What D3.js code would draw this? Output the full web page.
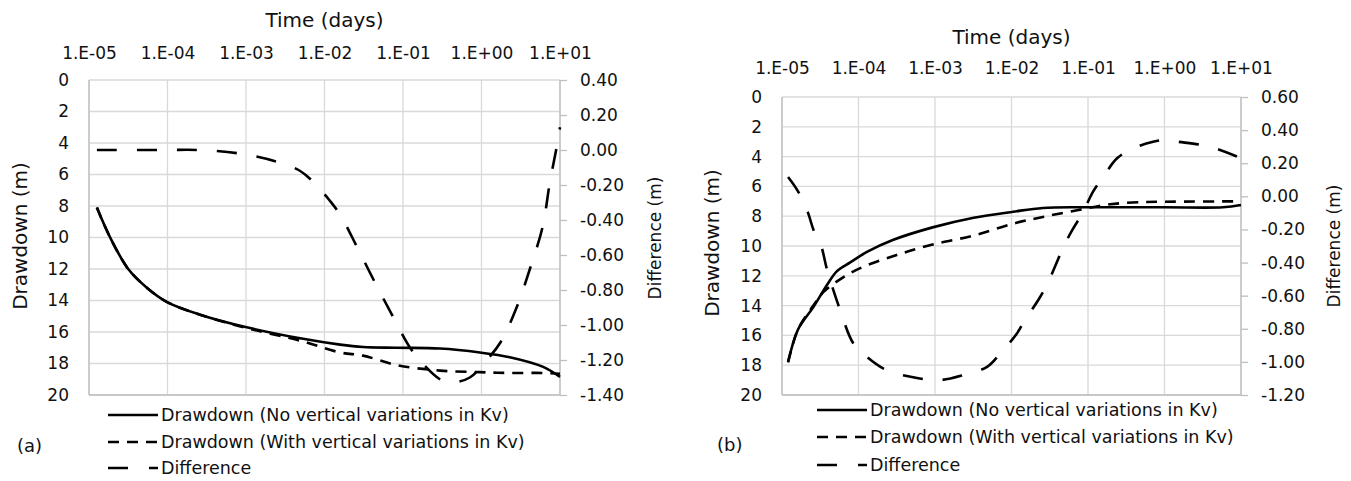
<!DOCTYPE html>
<html>
<head>
<meta charset="utf-8">
<script src="https://cdn.jsdelivr.net/npm/d3@7"></script>
<style>
  body { margin: 0; background: #fff; }
  svg { font-family: "DejaVu Sans", sans-serif; }
  .grid line { stroke: #d9d9d9; stroke-width: 1.3; }
  .axis path, .axis line { stroke: #bfbfbf; stroke-width: 1.3; }
  .axis text { fill: #111; font-size: 17px; font-family: "DejaVu Sans", sans-serif; }
</style>
</head>
<body>
<div id="chart"></div>
<script>
// tick values and labels
var timeTicks = [1e-5, 1e-4, 1e-3, 1e-2, 1e-1, 1, 10]
var timeTickLabels = ["1.E-05", "1.E-04", "1.E-03", "1.E-02", "1.E-01", "1.E+00", "1.E+01"]
var drawdownTicks = [0, 2, 4, 6, 8, 10, 12, 14, 16, 18, 20]
var diffTicksA = [0.4, 0.2, 0, -0.2, -0.4, -0.6, -0.8, -1.0, -1.2, -1.4]
var diffTicksB = [0.6, 0.4, 0.2, 0, -0.2, -0.4, -0.6, -0.8, -1.0, -1.2]

var legendLabels = ["Drawdown (No vertical variations in Kv)", "Drawdown (With vertical variations in Kv)", "Difference"]

// panel (a) : times in days, drawdown in m, difference in m
var timeA = [1.26e-5, 1.86e-5, 3.16e-5, 5.5e-5, 9.9e-5, 2.6e-4, 1.02e-3, 4.9e-3, 1.58e-2, 3.1e-2, 8.3e-2, 0.295, 0.955, 2.29, 6.0, 10]
var drawNoVarA = [8.1, 10.0, 12.0, 13.2, 14.1, 14.9, 15.7, 16.4, 16.8, 16.95, 17.0, 17.05, 17.3, 17.6, 18.2, 18.85]
var drawVarA = [8.1, 10.0, 12.0, 13.2, 14.1, 14.9, 15.75, 16.55, 17.3, 17.5, 18.1, 18.45, 18.55, 18.6, 18.6, 18.65]
var diffTimeA = [1.26e-5, 1e-4, 2.4e-4, 8.3e-4, 2.6e-3, 4.9e-3, 7.1e-3, 1.17e-2, 1.58e-2, 2.57e-2, 4.2e-2, 7.4e-2, 0.123, 0.178, 0.295, 0.40, 0.71, 1.17, 1.74, 2.8, 4.2, 6.0, 7.4, 9.1, 10]
var diffA = [0.0, 0.0, 0.0, -0.02, -0.07, -0.12, -0.18, -0.29, -0.37, -0.55, -0.74, -0.95, -1.13, -1.22, -1.31, -1.33, -1.30, -1.20, -1.10, -0.90, -0.67, -0.44, -0.19, 0.02, 0.13]

// panel (b)
var timeNoVarB = [1.2e-5, 1.62e-5, 2.57e-5, 3.89e-5, 5.2e-5, 7.8e-5, 1.29e-4, 2.8e-4, 9.3e-4, 3.2e-3, 1.05e-2, 2.57e-2, 8.5e-2, 1, 5.8, 10]
var drawNoVarB = [17.8, 15.6, 14.1, 12.6, 11.7, 11.1, 10.4, 9.6, 8.75, 8.1, 7.7, 7.45, 7.4, 7.4, 7.4, 7.25]
var timeVarB = [1.2e-5, 1.62e-5, 2.57e-5, 3.47e-5, 6.3e-5, 1.15e-4, 3.16e-4, 9.3e-4, 3.2e-3, 1.05e-2, 2.57e-2, 7.2e-2, 0.195, 0.52, 1, 10]
var drawVarB = [17.8, 15.6, 14.0, 13.1, 12.1, 11.4, 10.6, 9.9, 9.3, 8.5, 8.05, 7.6, 7.2, 7.05, 7.03, 7.0]
var diffTimeB = [1.2e-5, 1.62e-5, 2.19e-5, 2.57e-5, 3.16e-5, 3.89e-5, 4.68e-5, 5.75e-5, 8.5e-5, 1.29e-4, 2.34e-4, 6.3e-4, 1.17e-3, 2.34e-3, 4.8e-3, 7.1e-3, 1.17e-2, 1.5e-2, 2.24e-2, 2.9e-2, 3.9e-2, 4.7e-2, 6.3e-2, 8.5e-2, 0.117, 0.158, 0.24, 0.39, 0.71, 1, 1.48, 3.9, 10]
var diffB = [0.117, 0.03, -0.10, -0.20, -0.28, -0.445, -0.565, -0.686, -0.886, -0.97, -1.05, -1.10, -1.11, -1.08, -1.03, -0.95, -0.83, -0.747, -0.626, -0.535, -0.40, -0.31, -0.20, -0.10, 0.03, 0.117, 0.23, 0.29, 0.33, 0.34, 0.33, 0.30, 0.23]

var styles = [
	{dash: null},        // no variations : solid
	{dash: "11,8"},      // with variations : short dash
	{dash: "20,20"}      // difference : long dash
]
var legendDash = [null, "11,8", "20,21,10"]

var width = 1351
var height = 481

var svg = d3.select("#chart")
			.append("svg")
			.attr("width", width)
			.attr("height", height)

function zip(xs, ys) {
	return xs.map((x, i) => [x, ys[i]])
}

/**
 * draw one of the two panels
 */
function drawPanel(p) {
	var x = d3.scaleLog().domain([1e-5, 10]).range([p.left, p.right])
	var yL = d3.scaleLinear().domain([0, 20]).range([p.top, p.bottom])
	var yR = d3.scaleLinear().domain([p.diffTicks[0], p.diffTicks[p.diffTicks.length - 1]]).range([p.top, p.bottom])

	var g = svg.append("g")

	// grid
	var grid = g.append("g").attr("class", "grid")
	grid.selectAll(".h").data(drawdownTicks).enter().append("line")
		.attr("x1", p.left).attr("x2", p.right)
		.attr("y1", d => yL(d)).attr("y2", d => yL(d))
	grid.selectAll(".v").data(timeTicks).enter().append("line")
		.attr("x1", d => x(d)).attr("x2", d => x(d))
		.attr("y1", p.top).attr("y2", p.bottom)

	// top axis with time labels
	g.append("g")
	 .attr("class", "axis")
	 .attr("transform", "translate(0," + p.tickY + ")")
	 .call(d3.axisTop(x).tickValues(timeTicks).tickSize(0).tickPadding(0)
	 	.tickFormat((d, i) => timeTickLabels[i]))
	 .call(a => a.select(".domain").remove())

	// left axis
	g.append("g")
	 .attr("class", "axis")
	 .attr("transform", "translate(" + p.left + ",0)")
	 .call(d3.axisLeft(yL).tickValues(drawdownTicks).tickSize(0).tickPadding(20))
	 .call(a => a.select(".domain").attr("d", "M0," + p.top + "V" + p.bottom))

	// right axis
	g.append("g")
	 .attr("class", "axis")
	 .attr("transform", "translate(" + p.right + ",0)")
	 .call(d3.axisRight(yR).tickValues(p.diffTicks).tickSize(7).tickPadding(13).tickFormat(d3.format(".2f")))
	 .call(a => a.select(".domain").attr("d", "M0," + p.top + "V" + p.bottom))
	 .call(a => a.selectAll("text").text(d => d3.format(".2f")(d).replace("−", "-")))

	// bottom line
	g.append("line")
	 .attr("x1", p.left).attr("x2", p.right)
	 .attr("y1", p.bottom).attr("y2", p.bottom)
	 .style("stroke", "#bfbfbf").style("stroke-width", 1.3)

	// titles
	g.append("text")
	 .attr("x", (p.left + p.right) / 2).attr("y", p.titleY)
	 .attr("text-anchor", "middle")
	 .style("font-size", "20px").style("fill", "#111")
	 .text("Time (days)")

	g.append("text")
	 .attr("transform", "translate(" + p.leftTitleX + "," + p.leftTitleY + ") rotate(-90)")
	 .attr("text-anchor", "middle").attr("dominant-baseline", "central")
	 .style("font-size", "20px").style("fill", "#111")
	 .text("Drawdown (m)")

	g.append("text")
	 .attr("transform", "translate(" + p.rightTitleX + "," + p.rightTitleY + ") rotate(-90)")
	 .attr("text-anchor", "middle").attr("dominant-baseline", "central")
	 .style("font-size", "17px").style("fill", "#111")
	 .text("Difference (m)")

	// series
	var curve = d3.curveCatmullRom.alpha(0.5)
	var lineL = d3.line().x(d => x(d[0])).y(d => yL(d[1])).curve(curve)
	var lineR = d3.line().x(d => x(d[0])).y(d => yR(d[1])).curve(curve)

	var series = [
		{pts: p.noVar, line: lineL},
		{pts: p.withVar, line: lineL},
		{pts: p.diff, line: lineR}
	]
	series.forEach((s, i) => {
		g.append("path")
		 .attr("d", s.line(s.pts))
		 .attr("fill", "none")
		 .attr("stroke", "#000")
		 .attr("stroke-width", 2.6)
		 .attr("stroke-dasharray", styles[i].dash)
	})

	// legend
	var leg = g.append("g")
	legendLabels.forEach((lab, i) => {
		var ly = p.legendY[i]
		leg.append("line")
		   .attr("x1", p.legendX).attr("x2", p.legendX + 50)
		   .attr("y1", ly).attr("y2", ly)
		   .attr("stroke", "#000").attr("stroke-width", 2.6)
		   .attr("stroke-dasharray", legendDash[i])
		leg.append("text")
		   .attr("x", p.legendX + 53).attr("y", ly)
		   .attr("dominant-baseline", "central")
		   .style("font-size", "17.5px").style("fill", "#111")
		   .text(lab)
	})

	g.append("text")
	 .attr("x", p.tagX).attr("y", p.tagY)
	 .attr("dominant-baseline", "central")
	 .style("font-size", "18px").style("fill", "#111")
	 .text(p.tag)
}

drawPanel({
	left: 89, right: 560, top: 80, bottom: 395,
	tickY: 59, titleY: 27,
	leftTitleX: 20, leftTitleY: 236,
	rightTitleX: 655, rightTitleY: 238,
	diffTicks: diffTicksA,
	noVar: zip(timeA, drawNoVarA),
	withVar: zip(timeA, drawVarA),
	diff: zip(diffTimeA, diffA),
	legendX: 108, legendY: [415, 442, 468],
	tag: "(a)", tagX: 17, tagY: 445
})

drawPanel({
	left: 782, right: 1241, top: 97, bottom: 395,
	tickY: 74, titleY: 44,
	leftTitleX: 712, leftTitleY: 243,
	rightTitleX: 1334, rightTitleY: 246,
	diffTicks: diffTicksB,
	noVar: zip(timeNoVarB, drawNoVarB),
	withVar: zip(timeVarB, drawVarB),
	diff: zip(diffTimeB, diffB),
	legendX: 817, legendY: [410, 437, 465],
	tag: "(b)", tagX: 717, tagY: 444
})
</script>
</body>
</html>
